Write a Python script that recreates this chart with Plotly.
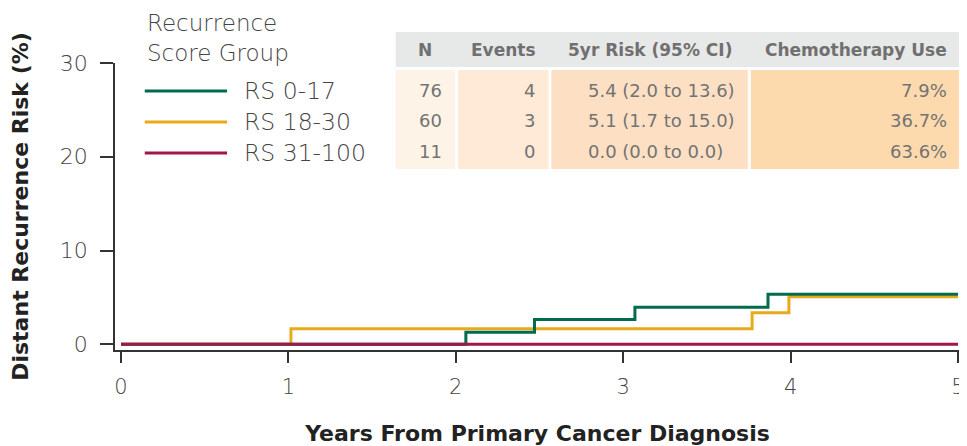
import plotly.graph_objects as go

# ---- data ----
groups = ["RS 0-17", "RS 18-30", "RS 31-100"]
colors = ["#006B4E", "#E8AA1C", "#A3164C"]
green_x = [0, 2.06, 2.47, 3.07, 3.865, 5]
green_y = [0, 1.3, 2.65, 3.95, 5.35, 5.35]
yellow_x = [0, 1.015, 3.77, 3.99, 5]
yellow_y = [0, 1.67, 3.37, 5.07, 5.07]
red_x = [0, 5]
red_y = [0, 0]

legend_title = ["Recurrence", "Score Group"]
table_headers = ["N", "Events", "5yr Risk (95% CI)", "Chemotherapy Use"]
col_n = ["76", "60", "11"]
col_events = ["4", "3", "0"]
col_risk = ["5.4 (2.0 to 13.6)", "5.1 (1.7 to 15.0)", "0.0 (0.0 to 0.0)"]
col_chemo = ["7.9%", "36.7%", "63.6%"]

x_ticks = [0, 1, 2, 3, 4, 5]
y_ticks = [0, 10, 20, 30]

# ---- layout geometry ----
OFF = 8  # page body margin
W, H = 959, 438
L, R, T, B = 105, 2, 55, 96
PW, PH = W - L - R, H - T - B


def px(x):
    """page pixel x -> paper"""
    return (x - OFF - L) / PW


def py(y):
    """page pixel y -> paper"""
    return (H - B - (y - OFF)) / PH


FONT = "DejaVu Sans"
TXT = "#444444"

fig = go.Figure()
series = [(yellow_x, yellow_y, 1), (green_x, green_y, 0), (red_x, red_y, 2)]
for xs, ys, gi in series:
    fig.add_trace(go.Scatter(x=xs, y=ys, mode="lines", line_shape="hv",
                             line=dict(color=colors[gi], width=3),
                             name=groups[gi], showlegend=False, hoverinfo="skip"))

shapes = []
annotations = []

# legend (custom)
annotations.append(dict(x=px(143), y=py(8), xref="paper", yref="paper",
                        text="<br>".join(legend_title), align="left",
                        showarrow=False, xanchor="left", yanchor="top",
                        font=dict(family=FONT, size=23, color=TXT, weight=200)))
leg_y = [91, 122, 153]
for i, g in enumerate(groups):
    shapes.append(dict(type="line", xref="paper", yref="paper", x0=px(143), x1=px(226),
                       y0=py(leg_y[i]), y1=py(leg_y[i]), line=dict(color=colors[i], width=3)))
    annotations.append(dict(x=px(241), y=py(leg_y[i]), xref="paper", yref="paper", text=g,
                            showarrow=False, xanchor="left", yanchor="middle",
                            font=dict(family=FONT, size=23.5, color=TXT, weight=200)))

# table
col_bounds = [(396, 456), (459, 550), (553, 751), (754, 967)]
col_fills = ["#FEF3E7", "#FEEAD6", "#FDE0C4", "#FDD9AE"]
shapes.append(dict(type="rect", xref="paper", yref="paper", x0=px(396), x1=px(967),
                   y0=py(67), y1=py(32), fillcolor="#E7E8E8", line=dict(width=0), layer="below"))
for (a, b), f in zip(col_bounds, col_fills):
    shapes.append(dict(type="rect", xref="paper", yref="paper", x0=px(a), x1=px(b),
                       y0=py(169), y1=py(70), fillcolor=f, line=dict(width=0), layer="below"))
for (a, b), h in zip(col_bounds, table_headers):
    annotations.append(dict(x=px((a + b) / 2), y=py(50), xref="paper", yref="paper", text=h,
                            showarrow=False, xanchor="center", yanchor="middle",
                            font=dict(family=FONT, size=17, color="#707070", weight=600)))
row_y = [90, 120, 151]
cols = [(col_n, 445, "right"), (col_events, 538, "right"), (col_risk, 588, "left"),
        (col_chemo, 954, "right")]
for vals, xpos, anchor in cols:
    for i, v in enumerate(vals):
        annotations.append(dict(x=px(xpos), y=py(row_y[i]), xref="paper", yref="paper", text=v,
                                showarrow=False, xanchor=anchor, yanchor="middle",
                                font=dict(family=FONT, size=18, color="#737373", weight=400)))

fig.update_layout(
    width=W, height=H,
    margin=dict(l=L, r=R, t=T, b=B),
    plot_bgcolor="white", paper_bgcolor="white",
    shapes=shapes, annotations=annotations,
    xaxis=dict(range=[-0.036, 5.012], tickvals=x_ticks, ticks="outside", ticklen=11,
               tickcolor="#333333", tickwidth=1.5, showline=True, linecolor="#333333",
               linewidth=1.5, showgrid=False, zeroline=False, ticklabelstandoff=6,
               ticklabeloverflow="allow",
               tickfont=dict(family=FONT, size=21, color=TXT, weight=200),
               title=dict(text="Years From Primary Cancer Diagnosis", standoff=28,
                          font=dict(family=FONT, size=22, color="#222222", weight=600))),
    yaxis=dict(range=[-0.6, 30], tickvals=y_ticks, ticks="outside", ticklen=13,
               tickcolor="#333333", tickwidth=1.5, showline=True, linecolor="#333333",
               linewidth=1.5, showgrid=False, zeroline=False, ticklabelstandoff=8,
               tickfont=dict(family=FONT, size=22, color=TXT, weight=200),
               title=dict(text="Distant Recurrence Risk (%)", standoff=34,
                          font=dict(family=FONT, size=22, color="#222222", weight=600))),
)

fig.write_html("out.html")
